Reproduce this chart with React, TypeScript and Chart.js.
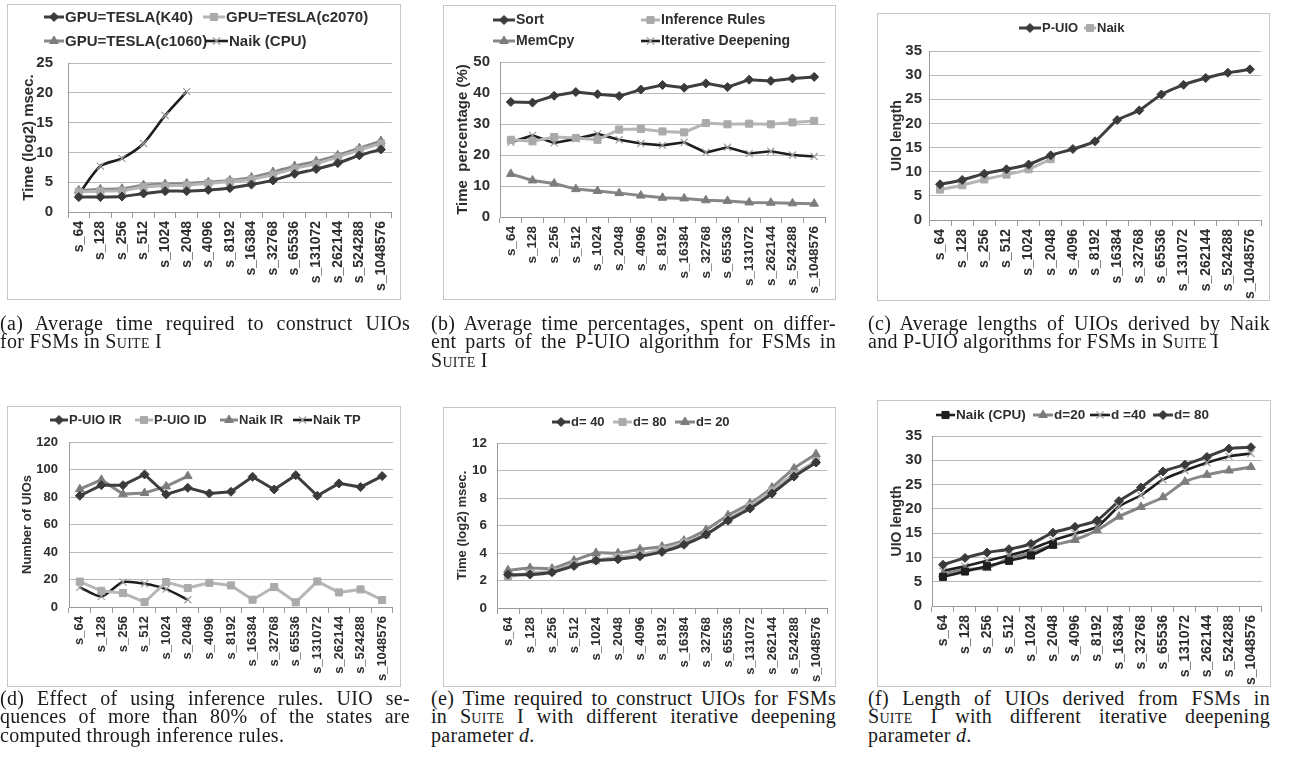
import React, { useEffect, useRef } from 'react';
import { Chart, registerables } from 'chart.js';
import { drawPoint } from 'chart.js/helpers';

Chart.register(...registerables);

// ---------- data ----------
const categories = ['s_64', 's_128', 's_256', 's_512', 's_1024', 's_2048', 's_4096', 's_8192', 's_16384', 's_32768', 's_65536', 's_131072', 's_262144', 's_524288', 's_1048576'];

// (a) time (log2 msec)
const aK40 = [2.5, 2.5, 2.6, 3.1, 3.5, 3.5, 3.7, 4.0, 4.6, 5.3, 6.4, 7.2, 8.2, 9.5, 10.5];
const aC2070 = [3.4, 3.5, 3.6, 4.2, 4.4, 4.5, 4.8, 5.1, 5.5, 6.3, 7.3, 8.1, 9.2, 10.4, 11.5];
const aC1060 = [3.6, 3.8, 3.9, 4.5, 4.7, 4.8, 5.0, 5.3, 5.8, 6.7, 7.7, 8.5, 9.5, 10.7, 11.9];
const aNaik = [3.0, 7.7, 9.0, 11.5, 16.2, 20.2];

// (b) time percentage
const bSort = [37.1, 36.9, 39.1, 40.3, 39.6, 39.0, 41.1, 42.6, 41.7, 43.1, 41.9, 44.3, 43.9, 44.7, 45.2];
const bInference = [24.9, 24.4, 25.8, 25.5, 24.9, 28.2, 28.4, 27.6, 27.3, 30.3, 29.9, 30.1, 29.9, 30.5, 31.0];
const bMemCpy = [13.9, 11.8, 10.8, 9.0, 8.4, 7.7, 6.9, 6.2, 6.0, 5.4, 5.2, 4.7, 4.6, 4.4, 4.3];
const bIterative = [24.1, 26.3, 23.9, 25.2, 26.8, 24.9, 23.7, 23.1, 24.1, 20.8, 22.5, 20.5, 21.2, 20.0, 19.5];

// (c) UIO length
const cPUIO = [7.4, 8.3, 9.6, 10.5, 11.5, 13.4, 14.7, 16.3, 20.7, 22.7, 26.0, 28.0, 29.4, 30.5, 31.2];
const cNaik = [6.3, 7.2, 8.4, 9.4, 10.5, 12.6];

// (d) number of UIOs
const dPUIO_IR = [80.9, 88.6, 88.6, 96.4, 81.9, 86.7, 82.6, 83.8, 94.7, 85.5, 95.9, 80.9, 89.9, 87.2, 95.2];
const dPUIO_ID = [18.5, 11.8, 10.1, 3.6, 18.1, 13.8, 17.6, 15.7, 5.3, 14.5, 3.4, 18.6, 10.6, 12.8, 5.1];
const dNaikIR = [85.7, 92.5, 82.1, 82.9, 87.7, 95.2];
const dNaikTP = [14.3, 7.7, 18.1, 16.9, 13.0, 5.3];

// (e) time (log2 msec) by d
const eD40 = [2.43, 2.43, 2.6, 3.06, 3.45, 3.54, 3.76, 4.08, 4.6, 5.34, 6.36, 7.23, 8.33, 9.56, 10.58];
const eD80 = [2.26, 2.55, 2.67, 3.18, 3.47, 3.71, 3.88, 4.27, 4.76, 5.34, 6.41, 7.4, 8.54, 9.73, 10.68];
const eD20 = [2.74, 2.91, 2.86, 3.45, 4.0, 3.98, 4.27, 4.47, 4.9, 5.68, 6.75, 7.6, 8.76, 10.15, 11.19];

// (f) UIO length by d
const fNaik = [6.0, 7.1, 8.2, 9.3, 10.4, 12.6];
const fD20 = [6.6, 7.5, 7.8, 9.8, 11.0, 12.5, 13.6, 15.6, 18.4, 20.4, 22.4, 25.6, 27.0, 27.9, 28.6];
const fD40 = [7.2, 8.2, 9.3, 10.4, 11.7, 13.5, 14.9, 16.3, 20.5, 22.8, 26.0, 27.9, 29.5, 30.8, 31.4];
const fD80 = [8.5, 9.9, 11.0, 11.7, 12.8, 15.1, 16.3, 17.6, 21.6, 24.4, 27.7, 29.1, 30.7, 32.4, 32.7];

// ---------- styles ----------
const FONT = '"Liberation Sans", Arial, Helvetica, sans-serif';
const TXT = '#2e2e2e';

const DARK = { borderColor: '#3e3e3e', pointStyle: 'rectRot', pointBackgroundColor: '#3a3a3a', pointBorderColor: '#3a3a3a', pointRadius: 4.5, pointBorderWidth: 1, borderWidth: 3 };
const LIGHT = { borderColor: '#b6b6b6', pointStyle: 'rect', pointBackgroundColor: '#aaaaaa', pointBorderColor: '#aaaaaa', pointRadius: 5, pointBorderWidth: 1, borderWidth: 3 };
const MID = { borderColor: '#878787', pointStyle: 'triangle', pointBackgroundColor: '#7c7c7c', pointBorderColor: '#7c7c7c', pointRadius: 5, pointBorderWidth: 1, borderWidth: 3 };
const BLACKX = { borderColor: '#1e1e1e', pointStyle: 'crossRot', pointBackgroundColor: '#9c9c9c', pointBorderColor: '#9c9c9c', pointRadius: 5, pointBorderWidth: 1.2, borderWidth: 2.6 };
const BLACKSQ = { borderColor: '#1e1e1e', pointStyle: 'rect', pointBackgroundColor: '#1e1e1e', pointBorderColor: '#1e1e1e', pointRadius: 5, pointBorderWidth: 1, borderWidth: 2.6 };

const ds = (label: string, data: number[], style: any, tension = 0) => ({ label, data, ...style, tension, pointHoverRadius: style.pointRadius, fill: false });

// custom legend drawn on the canvas
const boxLegend = {
  id: 'boxLegend',
  afterDraw(chart: any, _a: any, opts: any) {
    if (!opts || !opts.items) return;
    const ctx = chart.ctx;
    ctx.save();
    ctx.font = `bold ${opts.size}px ${FONT}`;
    ctx.textBaseline = 'middle';
    ctx.textAlign = 'left';
    opts.items.forEach((it: any, i: number) => {
      const d = chart.data.datasets[i];
      if (!d) return;
      const x = it[0], y = it[1], len = it[2];
      ctx.strokeStyle = d.borderColor;
      ctx.lineWidth = d.borderWidth;
      ctx.beginPath();
      ctx.moveTo(x, y);
      ctx.lineTo(x + len, y);
      ctx.stroke();
      ctx.fillStyle = d.pointBackgroundColor;
      ctx.strokeStyle = d.pointBorderColor;
      ctx.lineWidth = d.pointBorderWidth;
      drawPoint(ctx, { pointStyle: d.pointStyle, rotation: 0, radius: d.pointRadius, borderWidth: d.pointBorderWidth }, x + len / 2, y);
      ctx.fillStyle = TXT;
      ctx.fillText(d.label, x + len + 1, y + 0.5);
    });
    ctx.restore();
  },
};

type PanelCfg = {
  box: number[];
  plot: number[];
  yMax: number;
  yStep: number;
  yTitle: string;
  yTitleSize: number;
  yTitleX: number;
  yTickSize: number;
  yGap: number;
  xTickSize: number;
  legendSize: number;
  legend: number[][];
  datasets: any[];
};

const panels: PanelCfg[] = [
  {
    box: [7, 4, 401, 300], plot: [68, 63, 393, 212], yMax: 25, yStep: 5,
    yTitle: 'Time (log2) msec.', yTitleSize: 15, yTitleX: 29, yTickSize: 15, yGap: 15, xTickSize: 14,
    legendSize: 15, legend: [[44, 17, 20], [203, 17, 22], [44, 41, 20], [205, 41, 23]],
    datasets: [
      ds('GPU=TESLA(K40)', aK40, DARK, 0.2),
      ds('GPU=TESLA(c2070)', aC2070, LIGHT, 0.2),
      ds('GPU=TESLA(c1060)', aC1060, MID, 0.2),
      ds('Naik (CPU)', aNaik, BLACKX, 0.25),
    ],
  },
  {
    box: [443, 5, 836, 300], plot: [500, 62, 825, 217], yMax: 50, yStep: 5,
    yTitle: 'Time  percentage (%)', yTitleSize: 15, yTitleX: 463, yTickSize: 15, yGap: 10, xTickSize: 13.5,
    legendSize: 14, legend: [[493, 20, 22], [641, 20, 19], [493, 41, 22], [641, 41, 19]],
    datasets: [
      ds('Sort', bSort, DARK),
      ds('Inference Rules', bInference, LIGHT),
      ds('MemCpy', bMemCpy, MID),
      ds('Iterative Deepening', bIterative, BLACKX),
    ],
  },
  {
    box: [877, 13, 1270, 301], plot: [929, 51, 1263, 220], yMax: 35, yStep: 5,
    yTitle: 'UIO length', yTitleSize: 14, yTitleX: 897, yTickSize: 15, yGap: 7, xTickSize: 14,
    legendSize: 13, legend: [[1019, 28, 22], [1084, 28, 12]],
    datasets: [
      ds('P-UIO', cPUIO, DARK, 0.2),
      ds('Naik', cNaik, LIGHT, 0.2),
    ],
  },
  {
    box: [7, 406, 401, 687], plot: [69, 442, 393, 607], yMax: 120, yStep: 20,
    yTitle: 'Number of UIOs', yTitleSize: 13, yTitleX: 27, yTickSize: 13, yGap: 11, xTickSize: 13,
    legendSize: 13, legend: [[50, 420, 18], [135, 420, 18], [220, 420, 18], [293, 420, 19]],
    datasets: [
      ds('P-UIO IR', dPUIO_IR, DARK),
      ds('P-UIO ID', dPUIO_ID, LIGHT),
      ds('Naik IR', dNaikIR, MID),
      ds('Naik TP', dNaikTP, BLACKX, 0.25),
    ],
  },
  {
    box: [443, 407, 836, 687], plot: [497, 443, 827, 608], yMax: 12, yStep: 2,
    yTitle: 'Time (log2) msec.', yTitleSize: 13, yTitleX: 462, yTickSize: 13.5, yGap: 10, xTickSize: 13,
    legendSize: 13, legend: [[552, 422, 18], [613, 422, 19], [675, 422, 20]],
    datasets: [
      ds('d= 40', eD40, DARK, 0.2),
      ds('d= 80', eD80, LIGHT, 0.2),
      ds('d= 20', eD20, MID, 0.2),
    ],
  },
  {
    box: [877, 400, 1271, 687], plot: [932, 436, 1263, 606], yMax: 35, yStep: 5,
    yTitle: 'UIO length', yTitleSize: 14, yTitleX: 897, yTickSize: 15, yGap: 10, xTickSize: 14,
    legendSize: 13.5, legend: [[936, 415, 19], [1033, 415, 20], [1090, 415, 20], [1153, 415, 20]],
    datasets: [
      ds('Naik (CPU)', fNaik, BLACKSQ, 0.2),
      ds('d=20', fD20, MID, 0.2),
      ds('d =40', fD40, BLACKX, 0.2),
      ds('d= 80', fD80, DARK, 0.2),
    ],
  },
];

function Panel({ cfg }: { cfg: PanelCfg }) {
  const ref = useRef<HTMLCanvasElement | null>(null);
  const [L, T, R, B] = cfg.box;
  const [pl, pt, pr, pb] = cfg.plot;
  const W = R - L;
  const H = B - T;
  useEffect(() => {
    if (!ref.current) return;
    const titleLH = cfg.yTitleSize * 1.2;
    const chart = new Chart(ref.current, {
      type: 'line',
      data: { labels: categories, datasets: cfg.datasets },
      options: {
        responsive: false,
        animation: false,
        devicePixelRatio: 1,
        layout: { padding: { left: 0, top: pt - T, right: R - pr, bottom: 0 } },
        plugins: {
          legend: { display: false },
          tooltip: { enabled: false },
          boxLegend: { size: cfg.legendSize, items: cfg.legend.map((it) => [it[0] - L, it[1] - T, it[2]]) },
        } as any,
        scales: {
          x: {
            type: 'category',
            offset: true,
            grid: { offset: true, drawOnChartArea: false, drawTicks: true, tickLength: 6, color: '#9a9a9a' },
            border: { display: true, color: '#9a9a9a', width: 1 },
            ticks: {
              autoSkip: false, minRotation: 90, maxRotation: 90, padding: 3, color: TXT,
              font: { family: FONT, size: cfg.xTickSize, weight: 'bold' },
            },
            afterFit: (s: any) => { s.height = B - pb; },
          },
          y: {
            min: 0, max: cfg.yMax,
            ticks: { stepSize: cfg.yStep, padding: cfg.yGap, color: TXT, font: { family: FONT, size: cfg.yTickSize, weight: 'bold' } },
            grid: { color: '#b8b8b8', drawTicks: false, lineWidth: 1 },
            border: { display: true, color: '#9a9a9a', width: 1 },
            title: {
              display: true, text: cfg.yTitle, color: TXT,
              font: { family: FONT, size: cfg.yTitleSize, weight: 'bold', lineHeight: 1.2 },
              padding: { top: cfg.yTitleX - L - titleLH / 2, bottom: 0 },
            },
            afterFit: (s: any) => { s.width = pl - L; },
          },
        },
      } as any,
      plugins: [boxLegend as any],
    });
    return () => chart.destroy();
  }, []);
  return (
    <>
      <canvas ref={ref} width={W} height={H} style={{ position: 'absolute', left: L, top: T, width: W, height: H }} />
      <div style={{ position: 'absolute', left: L, top: T, width: W, height: H, boxSizing: 'border-box', border: '1px solid #c6c6c6', pointerEvents: 'none' }} />
    </>
  );
}

const SC = ({ children }: { children: any }) => <span style={{ fontVariant: 'small-caps' }}>{children}</span>;

type Cap = { left: number; top: number; width: number; lines: { j: boolean; c: any }[] };

const captions: Cap[] = [
  { left: 0, top: 314, width: 410, lines: [
    { j: true, c: '(a) Average time required to construct UIOs' },
    { j: false, c: <>for FSMs in <SC>Suite</SC> I</> },
  ] },
  { left: 431, top: 314, width: 405, lines: [
    { j: true, c: '(b) Average time percentages, spent on differ-' },
    { j: true, c: 'ent parts of the P-UIO algorithm for FSMs in' },
    { j: false, c: <><SC>Suite</SC> I</> },
  ] },
  { left: 868, top: 314, width: 402, lines: [
    { j: true, c: '(c) Average lengths of UIOs derived by Naik' },
    { j: false, c: <>and P-UIO algorithms for FSMs in <SC>Suite</SC> I</> },
  ] },
  { left: 0, top: 689, width: 410, lines: [
    { j: true, c: '(d) Effect of using inference rules. UIO se-' },
    { j: true, c: 'quences of more than 80% of the states are' },
    { j: false, c: 'computed through inference rules.' },
  ] },
  { left: 431, top: 689, width: 405, lines: [
    { j: true, c: '(e) Time required to construct UIOs for FSMs' },
    { j: true, c: <>in <SC>Suite</SC> I with different iterative deepening</> },
    { j: false, c: <>parameter <i>d</i>.</> },
  ] },
  { left: 868, top: 689, width: 402, lines: [
    { j: true, c: '(f)  Length of UIOs derived from FSMs in' },
    { j: true, c: <><SC>Suite</SC> I with different iterative deepening</> },
    { j: false, c: <>parameter <i>d</i>.</> },
  ] },
];

export default function App() {
  return (
    <div style={{ position: 'absolute', left: 0, top: 0, width: 1295, height: 768, background: '#fff', overflow: 'hidden' }}>
      {panels.map((p, i) => <Panel key={i} cfg={p} />)}
      {captions.map((c, i) => (
        <div key={'c' + i} style={{ position: 'absolute', left: c.left, top: c.top, width: c.width, fontFamily: '"Liberation Serif", "Times New Roman", serif', fontSize: 20, lineHeight: '18.4px', letterSpacing: '0.3px', color: '#1a1a1a' }}>
          {c.lines.map((l, k) => (
            <div key={k} style={{ textAlign: l.j ? 'justify' : 'left', textAlignLast: l.j ? 'justify' : 'left', whiteSpace: 'nowrap' } as any}>{l.c}</div>
          ))}
        </div>
      ))}
    </div>
  );
}
